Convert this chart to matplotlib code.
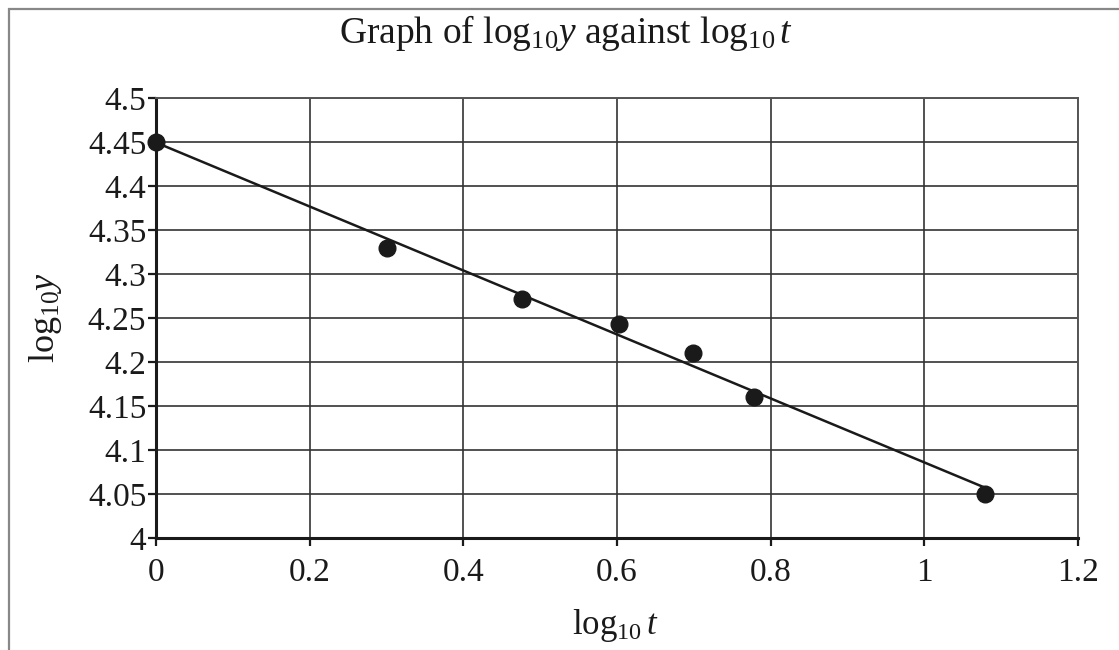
import numpy as np
import matplotlib
matplotlib.use("Agg")
import matplotlib.pyplot as plt
from matplotlib.patches import Rectangle

# data
log_t = [0, 0.301, 0.477, 0.602, 0.699, 0.778, 1.079]
log_y = [4.45, 4.33, 4.272, 4.243, 4.21, 4.16, 4.05]
x_ticks = [0, 0.2, 0.4, 0.6, 0.8, 1, 1.2]
x_tick_labels = ["0", "0.2", "0.4", "0.6", "0.8", "1", "1.2"]
y_ticks = [4, 4.05, 4.1, 4.15, 4.2, 4.25, 4.3, 4.35, 4.4, 4.45, 4.5]
y_tick_labels = ["4", "4.05", "4.1", "4.15", "4.2", "4.25", "4.3", "4.35", "4.4", "4.45", "4.5"]

plt.rcParams["font.family"] = "Liberation Serif"
plt.rcParams["mathtext.fontset"] = "custom"
plt.rcParams["mathtext.rm"] = "Liberation Serif"
plt.rcParams["mathtext.it"] = "Liberation Serif:italic"

fig = plt.figure(figsize=(11.19, 6.5), dpi=100)
ax = fig.add_axes([156 / 1119, 1 - 538 / 650, (1078 - 156) / 1119, (538 - 98) / 650])

# linear trend line through the points
slope, intercept = np.polyfit(log_t, log_y, 1)
xs = np.array([min(log_t), max(log_t)])
ax.plot(xs, slope * xs + intercept, color="#1a1a1a", lw=1.8, zorder=3)
ax.plot(log_t, log_y, "o", color="#1a1a1a", ms=12, zorder=4, clip_on=False)

ax.set_xlim(0, 1.2)
ax.set_ylim(4, 4.5)
ax.set_xticks(x_ticks)
ax.set_xticklabels(x_tick_labels)
ax.set_yticks(y_ticks)
ax.set_yticklabels(y_tick_labels)
ax.tick_params(direction="out", length=6, width=1.6, labelsize=24, colors="#1a1a1a")
ax.tick_params(axis="y", pad=1)
ax.tick_params(axis="x", pad=8)
ax.grid(True, color="#333333", lw=1.2)
ax.set_axisbelow(True)

for side in ["left", "bottom"]:
    ax.spines[side].set_linewidth(2.2)
    ax.spines[side].set_color("#1a1a1a")
for side in ["top", "right"]:
    ax.spines[side].set_linewidth(1.4)
    ax.spines[side].set_color("#555555")

fig.text(566 / 1119, 1 - 43 / 650, r"Graph of $\mathrm{log}_{10}y$ against $\mathrm{log}_{10}\,t$",
         ha="center", va="baseline", fontsize=27, color="#1a1a1a")
fig.text(615 / 1119, 1 - 634 / 650, r"$\mathrm{log}_{10}\,t$",
         ha="center", va="baseline", fontsize=25, color="#1a1a1a")
fig.text(46 / 1119, 1 - 318 / 650, r"$\mathrm{log}_{10}y$", rotation=90,
         ha="center", va="center", fontsize=26, color="#1a1a1a")

# grey frame round the figure (runs off the right and bottom edges)
fig.patches.append(Rectangle((9 / 1119, -0.1), 1.2, 1 - 9 / 650 + 0.1,
                             transform=fig.transFigure, fill=False,
                             edgecolor="#888888", lw=1.6))

fig.savefig("out.png", dpi=100)
